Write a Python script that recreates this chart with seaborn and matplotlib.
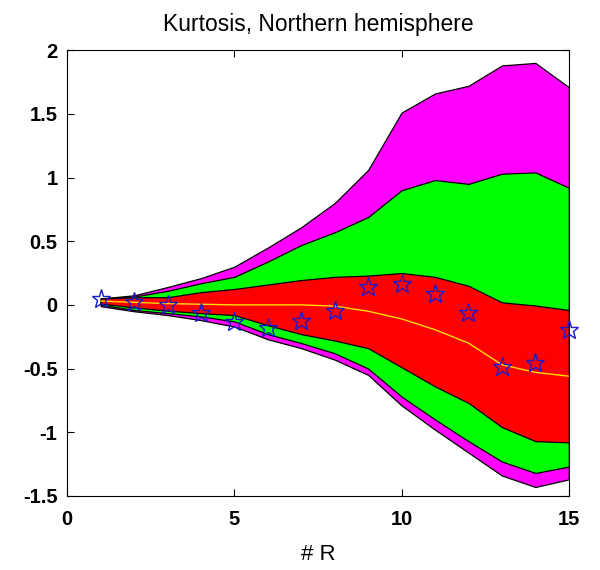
import numpy as np
import pandas as pd
import matplotlib
matplotlib.use("Agg")
import matplotlib.pyplot as plt
import seaborn as sns

R = list(range(1, 16))
mag_hi = [0.05, 0.075, 0.14, 0.21, 0.30, 0.45, 0.61, 0.80, 1.06, 1.51, 1.66, 1.72, 1.88, 1.90, 1.71]
grn_hi = [0.05, 0.065, 0.11, 0.17, 0.22, 0.34, 0.47, 0.57, 0.69, 0.90, 0.98, 0.95, 1.03, 1.04, 0.92]
red_hi = [0.05, 0.06, 0.06, 0.10, 0.125, 0.16, 0.195, 0.22, 0.23, 0.25, 0.22, 0.15, 0.02, -0.005, -0.04]
red_lo = [0.01, -0.02, -0.045, -0.065, -0.08, -0.16, -0.23, -0.28, -0.34, -0.49, -0.64, -0.77, -0.96, -1.07, -1.08]
grn_lo = [0.0, -0.04, -0.065, -0.09, -0.13, -0.23, -0.30, -0.38, -0.50, -0.72, -0.90, -1.07, -1.23, -1.32, -1.27]
mag_lo = [-0.01, -0.05, -0.08, -0.12, -0.17, -0.27, -0.34, -0.43, -0.55, -0.79, -0.98, -1.16, -1.34, -1.43, -1.37]
median = [0.03, 0.02, 0.01, 0.005, 0.0, 0.0, 0.0, -0.01, -0.05, -0.11, -0.195, -0.30, -0.47, -0.53, -0.56]
obs = [0.05, 0.02, 0.0, -0.065, -0.135, -0.18, -0.13, -0.05, 0.14, 0.16, 0.085, -0.065, -0.49, -0.46, -0.20]

xticks = [0, 5, 10, 15]
yticks = [-1.5, -1, -0.5, 0, 0.5, 1, 1.5, 2]
yticklabels = ["-1.5", "-1", "-0.5", "0", "0.5", "1", "1.5", "2"]

sns.set_style("white")
plt.rcParams["font.family"] = ["Liberation Sans", "DejaVu Sans"]
plt.rcParams["text.color"] = "black"
plt.rcParams["axes.labelcolor"] = "black"
plt.rcParams["xtick.color"] = "black"
plt.rcParams["ytick.color"] = "black"

df = pd.DataFrame({"R": R, "median": median, "obs": obs})

fig = plt.figure(figsize=(6.0, 5.7), dpi=100)
ax = fig.add_axes([0.112, 0.130, 0.836, 0.782])

for lo, hi, col in [(mag_lo, mag_hi, "#ff00ff"), (grn_lo, grn_hi, "#00ff00"), (red_lo, red_hi, "#ff0000")]:
    ax.fill_between(R, lo, hi, facecolor=col, edgecolor="black", linewidth=0.9, zorder=1)

sns.lineplot(data=df, x="R", y="median", ax=ax, color="#ffdd00", linewidth=1.0, zorder=3)
sns.lineplot(data=df, x="R", y="obs", ax=ax, linestyle="", marker="*", markersize=14,
             markerfacecolor="none", markeredgecolor="#1a1acc", markeredgewidth=1.0,
             zorder=4, clip_on=False)

ax.set_xlim(0, 15)
ax.set_ylim(-1.5, 2)
ax.set_xticks(xticks)
ax.set_xticklabels([str(t) for t in xticks], fontweight="bold")
ax.set_yticks(yticks)
ax.set_yticklabels(yticklabels, fontweight="bold")
ax.tick_params(direction="in", length=5, width=0.8, labelsize=14.5, top=True, right=True,
               bottom=True, left=True, pad=7, colors="black")
ax.tick_params(axis="x", pad=10)
for s in ax.spines.values():
    s.set_visible(True)
    s.set_color("black")
    s.set_linewidth(0.8)
ax.set_xlabel("# R", fontsize=16, labelpad=11, color="black")
ax.set_ylabel("")
ax.set_title("Kurtosis, Northern hemisphere", fontsize=16.5, pad=14, color="black")

fig.savefig("out.png", dpi=100)
